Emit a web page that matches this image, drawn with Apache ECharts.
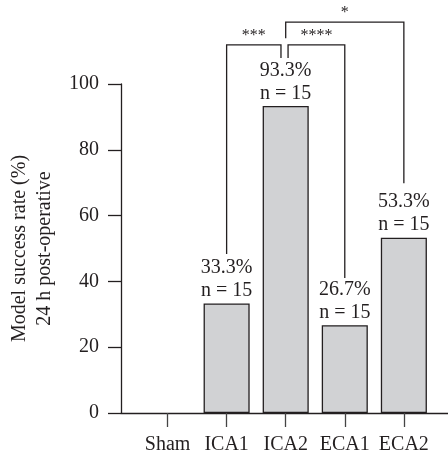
<!DOCTYPE html>
<html>
<head>
<meta charset="utf-8">
<style>
  html, body { margin: 0; padding: 0; background: #ffffff; }
  #chart { width: 448px; height: 457px; }
</style>
<script src="https://cdn.jsdelivr.net/npm/echarts@6/dist/echarts.min.js"></script>
</head>
<body>
<div id="chart"></div>
<script>
// Groups and model success rate (%) 24 h after the operation
const categories = ['Sham', 'ICA1', 'ICA2', 'ECA1', 'ECA2'];
const successRate = [0, 33.3, 93.3, 26.7, 53.3];
const groupSize = [null, 15, 15, 15, 15];

// Y axis scale
const yMin = 0;
const yMax = 100;
const yStep = 20;

// Significance brackets (x in group index units, y in % units)
const bracketLeft = [1, 2.04, 2];
const bracketRight = [1.92, 3, 4];
const bracketTop = [111.9, 111.9, 118.8];
const bracketLeftEnd = [48.3, 107.9, 113.9];
const bracketRightEnd = [107.9, 41.0, 69.8];
const bracketStars = ['***', '****', '*'];

const ink = '#231f20';
const font = 'Liberation Serif';

const barData = successRate.map((v, i) => ({
  value: v,
  itemStyle: v > 0 ? {} : { borderWidth: 0, color: 'transparent' },
  label: { show: groupSize[i] != null && v > 0 }
}));

const bracketData = bracketLeft.map((x1, i) =>
  [x1, bracketRight[i], bracketTop[i], bracketLeftEnd[i], bracketRightEnd[i]]);

const chart = echarts.init(document.getElementById('chart'), null, { renderer: 'canvas' });

chart.setOption({
  animation: false,
  backgroundColor: '#ffffff',
  textStyle: { fontFamily: font, color: ink },
  grid: [
    { left: 138, width: 295.4, top: 84, height: 329, containLabel: false, outerBoundsMode: 'none' },
    { left: 121, right: 0, top: 84, height: 329, containLabel: false, outerBoundsMode: 'none' }
  ],
  xAxis: [
    {
      type: 'category',
      gridIndex: 0,
      data: categories,
      axisLine: { show: false, onZero: false },
      axisTick: { show: true, alignWithLabel: true, length: 14, lineStyle: { color: '#444', width: 1.3 } },
      axisLabel: { interval: 0, margin: 22, fontSize: 20, fontFamily: font, color: ink }
    },
    {
      type: 'value',
      gridIndex: 0,
      min: -0.5,
      max: 4.5,
      show: false
    },
    {
      type: 'value',
      gridIndex: 1,
      min: 0,
      max: 1,
      axisLine: { show: true, onZero: false, lineStyle: { color: ink, width: 1.3 } },
      axisTick: { show: false },
      axisLabel: { show: false },
      splitLine: { show: false }
    }
  ],
  yAxis: [
    {
      type: 'value',
      gridIndex: 0,
      min: yMin,
      max: yMax,
      interval: yStep,
      offset: 17,
      name: 'Model success rate (%)\n24 h post-operative',
      nameLocation: 'middle',
      nameGap: 64,
      nameTextStyle: { fontSize: 20, lineHeight: 25, fontFamily: font, color: ink },
      axisLine: { show: true, onZero: false, lineStyle: { color: ink, width: 1.3 } },
      axisTick: { show: true, length: 13, lineStyle: { color: ink, width: 1.3 } },
      axisLabel: { margin: 22, fontSize: 20, fontFamily: font, color: ink },
      splitLine: { show: false }
    },
    {
      type: 'value',
      gridIndex: 1,
      min: 0,
      max: 1,
      show: false
    }
  ],
  series: [
    {
      type: 'bar',
      xAxisIndex: 0,
      yAxisIndex: 0,
      data: barData,
      barWidth: '78%',
      itemStyle: { color: '#d1d2d4', borderColor: ink, borderWidth: 1.3 },
      label: {
        position: 'top',
        distance: 1,
        fontSize: 20,
        lineHeight: 23,
        fontFamily: font,
        color: ink,
        formatter: p => `${p.value}%\nn = ${groupSize[p.dataIndex]}`
      },
      silent: true
    },
    {
      type: 'custom',
      xAxisIndex: 1,
      yAxisIndex: 0,
      clip: false,
      silent: true,
      data: bracketData,
      encode: { x: [0, 1], y: [2, 3, 4] },
      renderItem: (params, api) => {
        const x1 = api.value(0), x2 = api.value(1);
        const top = api.value(2), l = api.value(3), r = api.value(4);
        const pL = api.coord([x1, l]);
        const pLT = api.coord([x1, top]);
        const pRT = api.coord([x2, top]);
        const pR = api.coord([x2, r]);
        return {
          type: 'group',
          children: [
            {
              type: 'polyline',
              shape: { points: [pL, pLT, pRT, pR] },
              style: { stroke: ink, lineWidth: 1.3, fill: null }
            },
            {
              type: 'text',
              style: {
                text: bracketStars[params.dataIndex],
                x: (pLT[0] + pRT[0]) / 2,
                y: pLT[1] - 9,
                align: 'center',
                verticalAlign: 'middle',
                fontSize: 16,
                fontFamily: font,
                fill: ink
              }
            }
          ]
        };
      }
    }
  ]
});
</script>
</body>
</html>
